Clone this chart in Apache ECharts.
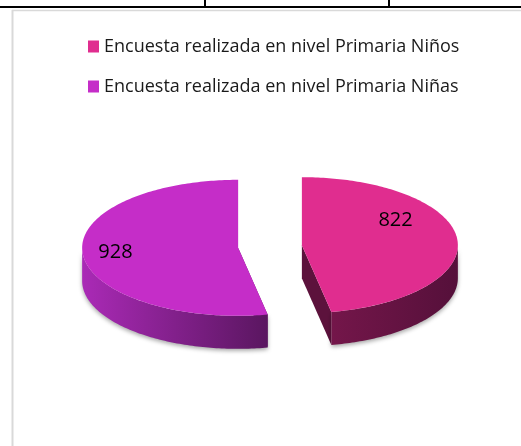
<!DOCTYPE html>
<html>
<head>
<meta charset="utf-8">
<script src="https://cdn.jsdelivr.net/npm/echarts@6/dist/echarts.min.js"></script>
<style>
  html, body { margin: 0; padding: 0; background: #fff; }
  #pieChart { width: 521px; height: 446px; }
</style>
</head>
<body>
<div id="pieChart"></div>
<script>
// datos de la encuesta
var categories = ['Encuesta realizada en nivel Primaria Niños', 'Encuesta realizada en nivel Primaria Niñas'];
var values = [822, 928];
var topColors = ['#E02D8F', '#C52DC8'];

// forma del pastel 3D
var cx = 270, cy = 246.5, rx = 156, ry = 68, depth = 33, explode = 32;
var labelNudge = [[-15, -20], [-14, 0]];
var sideColors = [['#74164a', '#55103a'], ['#aa2ab6', '#5a1660']];
var wallColors = ['#5c123c', '#6a1a70'];

var total = values.reduce(function (a, b) { return a + b; }, 0);

function makeRender(i) {
  return function (params, api) {
    var before = 0;
    for (var k = 0; k < i; k++) before += values[k];
    var v = api.value(0);
    var a0 = before / total * Math.PI * 2;
    var a1 = (before + v) / total * Math.PI * 2;
    var mid = (a0 + a1) / 2;
    var ox = cx + explode * Math.sin(mid);
    var oy = cy - explode * Math.cos(mid) * ry / rx;
    function pt(t, h) {
      return [ox + rx * Math.sin(t), oy - ry * Math.cos(t) + (h || 0)];
    }
    function arc(s, e, h) {
      var pts = [];
      var n = Math.max(2, Math.ceil(Math.abs(e - s) / (Math.PI / 180)));
      for (var j = 0; j <= n; j++) pts.push(pt(s + (e - s) * j / n, h));
      return pts;
    }
    var children = [];
    // paredes radiales
    [a0, a1].forEach(function (t) {
      var p = pt(t);
      children.push({
        type: 'polygon',
        shape: { points: [[ox, oy], p, [p[0], p[1] + depth], [ox, oy + depth]] },
        style: { fill: wallColors[i] }
      });
    });
    // costado visible
    var s = Math.max(a0, Math.PI / 2), e = Math.min(a1, Math.PI * 1.5);
    if (e > s) {
      var side = arc(s, e, 0).concat(arc(e, s, depth));
      children.push({
        type: 'polygon',
        shape: { points: side },
        style: {
          fill: new echarts.graphic.LinearGradient(0, 0, 1, 0, [
            { offset: 0, color: sideColors[i][0] },
            { offset: 1, color: sideColors[i][1] }
          ]),
          shadowBlur: 4,
          shadowOffsetY: 2,
          shadowColor: 'rgba(0,0,0,0.35)'
        }
      });
    }
    // cara superior
    children.push({
      type: 'polygon',
      shape: { points: [[ox, oy]].concat(arc(a0, a1, 0)) },
      style: { fill: topColors[i] }
    });
    // etiqueta
    children.push({
      type: 'text',
      style: {
        text: String(v),
        x: ox + 0.7 * rx * Math.sin(mid) + labelNudge[i][0],
        y: oy - 0.7 * ry * Math.cos(mid) + labelNudge[i][1],
        fill: '#000',
        font: '20px "Open Sans"',
        align: 'center',
        verticalAlign: 'middle'
      }
    });
    return { type: 'group', children: children };
  };
}

var chart = echarts.init(document.getElementById('pieChart'));

var series = categories.map(function (name, i) {
  return {
    name: name,
    type: 'custom',
    coordinateSystem: 'none',
    itemStyle: { color: topColors[i] },
    renderItem: makeRender(i),
    data: [values[i]],
    silent: true
  };
});

var option = {
  animation: false,
  legend: {
    orient: 'vertical',
    left: 83,
    top: 31.5,
    itemWidth: 11,
    itemHeight: 12,
    itemGap: 20,
    icon: 'rect',
    textStyle: { fontFamily: 'Open Sans', fontSize: 18, lineHeight: 20, color: '#1a1a1a' },
    data: categories
  },
  graphic: [
    // bordes de la tabla
    { type: 'rect', shape: { x: 0, y: 6, width: 521, height: 2 }, style: { fill: '#000' } },
    { type: 'rect', shape: { x: 204, y: 0, width: 2, height: 7 }, style: { fill: '#000' } },
    { type: 'rect', shape: { x: 388, y: 0, width: 2, height: 7 }, style: { fill: '#000' } },
    // marco del grafico
    { type: 'line', shape: { x1: 12.5, y1: 10, x2: 12.5, y2: 446 }, style: { stroke: '#d9d9d9', lineWidth: 2 } },
    { type: 'line', shape: { x1: 12, y1: 10.5, x2: 521, y2: 10.5 }, style: { stroke: '#d9d9d9', lineWidth: 1.5 } }
  ],
  series: series
};

chart.setOption(option);
</script>
</body>
</html>
